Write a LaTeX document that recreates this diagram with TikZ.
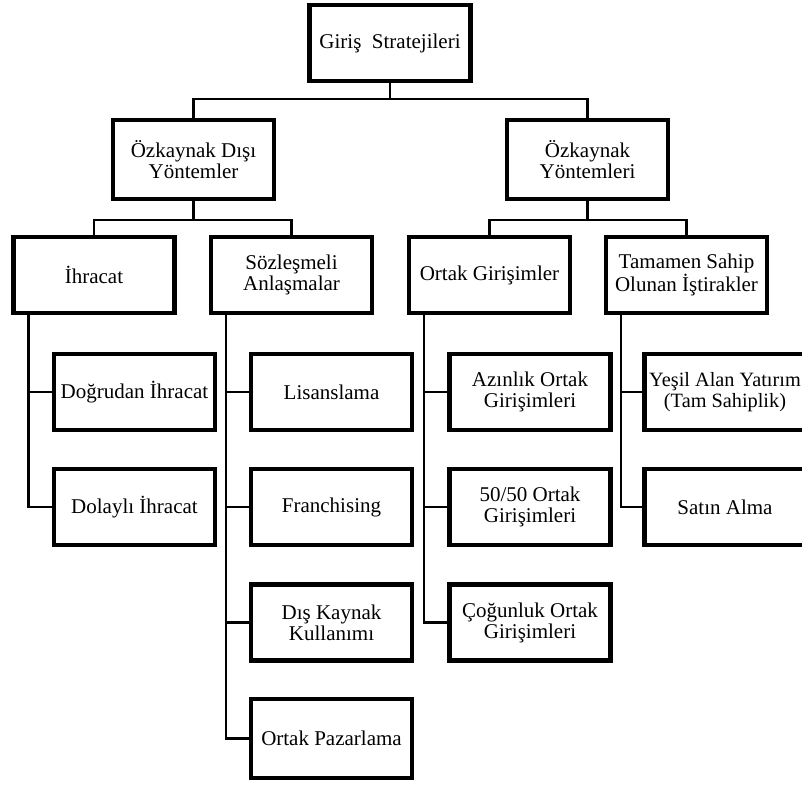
\documentclass[tikz,border=0pt]{standalone}
\usepackage{fontspec}
\setmainfont{Liberation Serif}
\usetikzlibrary{shadows}
\begin{document}
\begin{tikzpicture}[x=1pt,y=-1pt,
  box/.style={draw, line width=4.3pt, fill=white, align=center, inner sep=0pt, outer sep=0pt,
    minimum width=161pt, minimum height=76pt,
    font=\fontsize{21}{21}\selectfont,
    drop shadow={opacity=0.2, shadow xshift=2pt, shadow yshift=-2pt}},
  conn/.style={line width=2.4pt}]
\useasboundingbox (0,0) rectangle (802,787);
% level 1
\node[box] (top) at (390,43) {Giriş\ \ Stratejileri};
% level 2
\node[box, minimum height=79pt] (nonEq) at (193.5,159.5) {Özkaynak Dışı\\Yöntemler};
\node[box, minimum height=79pt] (eq) at (587.5,159.5) {Özkaynak\\Yöntemleri};
% level 3
\node[box] (ihr) at (94,275) {İhracat};
\node[box] (soz) at (291.5,275) {Sözleşmeli\\Anlaşmalar};
\node[box] (ort) at (489.5,275) {Ortak Girişimler};
\node[box] (tam) at (686.5,275) {Tamamen Sahip\\Olunan İştirakler};
% level 4 - İhracat
\node[box] (dog) at (134.5,392) {Doğrudan İhracat};
\node[box] (dol) at (134.5,507) {Dolaylı İhracat};
% Sözleşmeli
\node[box] (lis) at (331.5,392) {Lisanslama};
\node[box] (fra) at (331.5,507) {Franchising};
\node[box] (dis) at (331.5,622.5) {Dış Kaynak\\Kullanımı};
\node[box, minimum height=79pt] (paz) at (331.5,738.5) {Ortak Pazarlama};
% Ortak
\node[box] (azi) at (530,392) {Azınlık Ortak\\Girişimleri};
\node[box] (fif) at (530,507) {50/50 Ortak\\Girişimleri};
\node[box] (cog) at (530,622.5) {Çoğunluk Ortak\\Girişimleri};
% Tamamen
\node[box, font=\fontsize{20.3}{21}\selectfont] (yes) at (725,392) {Yeşil Alan Yatırım\\(Tam Sahiplik)};
\node[box] (sat) at (725,507) {Satın Alma};
% connectors
\coordinate (j1) at (390,99);
\draw[conn] (top.south) -- (j1);
\draw[conn] (nonEq.north) |- (j1);
\draw[conn] (eq.north) |- (j1);
\coordinate (j2) at (193.5,220);
\draw[conn] (nonEq.south) -- (j2);
\draw[conn] (ihr.north) |- (j2);
\draw[conn] (soz.north) |- (j2);
\coordinate (j3) at (587.5,220);
\draw[conn] (eq.south) -- (j3);
\draw[conn] (ort.north) |- (j3);
\draw[conn] (tam.north) |- (j3);
\draw[conn] ([xshift=15pt]ihr.south west) |- (dog.west);
\draw[conn] ([xshift=15pt]ihr.south west) |- (dol.west);
\draw[conn] ([xshift=15pt]soz.south west) |- (lis.west);
\draw[conn] ([xshift=15pt]soz.south west) |- (fra.west);
\draw[conn] ([xshift=15pt]soz.south west) |- (dis.west);
\draw[conn] ([xshift=15pt]soz.south west) |- (paz.west);
\draw[conn] ([xshift=15pt]ort.south west) |- (azi.west);
\draw[conn] ([xshift=15pt]ort.south west) |- (fif.west);
\draw[conn] ([xshift=15pt]ort.south west) |- (cog.west);
\draw[conn] ([xshift=15pt]tam.south west) |- (yes.west);
\draw[conn] ([xshift=15pt]tam.south west) |- (sat.west);
\end{tikzpicture}
\end{document}
